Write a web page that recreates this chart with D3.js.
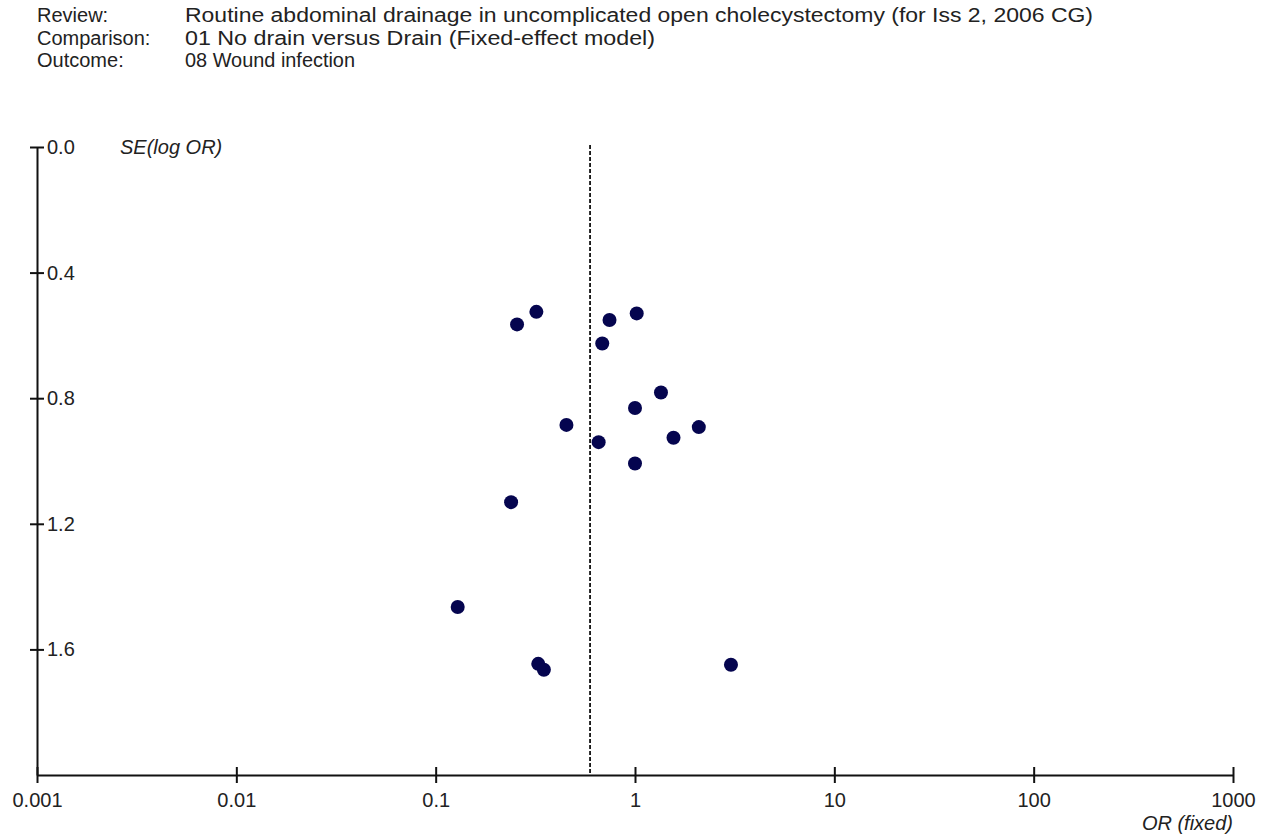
<!DOCTYPE html>
<html>
<head>
<meta charset="utf-8">
<script src="https://cdn.jsdelivr.net/npm/d3@7"></script>
<style>
  html, body { margin: 0; padding: 0; background: #fff; }
  svg { display: block; font-family: "Liberation Sans", Arial, sans-serif; }
</style>
</head>
<body>
<svg id="chart" width="1266" height="838"></svg>
<script>
// ---- data ----
const headerLabels = ["Review:", "Comparison:", "Outcome:"];
const headerValues = [
  "Routine abdominal drainage in uncomplicated open cholecystectomy (for Iss 2, 2006 CG)",
  "01 No drain versus Drain (Fixed-effect model)",
  "08 Wound infection"
];
const studyOR = [0.32, 0.256, 0.745, 1.02, 0.685, 1.35, 1.0, 0.453, 2.09, 1.56, 0.657, 1.0, 0.239, 0.129, 0.327, 0.349, 3.03];
const studySE = [0.525, 0.565, 0.551, 0.530, 0.626, 0.782, 0.831, 0.885, 0.892, 0.926, 0.940, 1.008, 1.131, 1.465, 1.646, 1.665, 1.649];
const pooledOR = 0.595;
const xTickValues = [0.001, 0.01, 0.1, 1, 10, 100, 1000];
const xTickLabels = ["0.001", "0.01", "0.1", "1", "10", "100", "1000"];
const yTickValues = [0.0, 0.4, 0.8, 1.2, 1.6];
const yTickLabels = ["0.0", "0.4", "0.8", "1.2", "1.6"];
const yAxisTitle = "SE(log OR)";
const xAxisTitle = "OR (fixed)";

// ---- layout ----
const svg = d3.select("#chart");
const plotLeft = 37, plotRight = 1233, plotTop = 147, plotBottom = 775;

const x = d3.scaleLog().domain([0.001, 1000]).range([plotLeft, plotRight]);
const y = d3.scaleLinear().domain([0, 2.0]).range([plotTop, plotBottom]);

// header
const hdr = svg.append("g").attr("fill", "#222").style("font-size", "20px");
const valueWidths = [908, 470, 170];
headerLabels.forEach((t, i) => {
  const by = 22 + i * 22.5;
  hdr.append("text").attr("x", 37).attr("y", by).text(t);
  hdr.append("text").attr("x", 185).attr("y", by)
    .attr("textLength", valueWidths[i]).attr("lengthAdjust", "spacingAndGlyphs")
    .text(headerValues[i]);
});

// pooled estimate dashed line
svg.append("line")
  .attr("x1", x(pooledOR)).attr("x2", x(pooledOR))
  .attr("y1", y(0) - 2).attr("y2", y(2.0))
  .attr("stroke", "#111").attr("stroke-width", 1.8)
  .attr("stroke-dasharray", "4,2");

// x axis
const xFmt = d => xTickLabels[xTickValues.indexOf(d)];
svg.append("g").attr("transform", `translate(0,${plotBottom})`)
  .call(d3.axisBottom(x).tickValues(xTickValues).tickFormat(xFmt)
    .tickSizeInner(8).tickSizeOuter(0).tickPadding(10));
svg.append("g").attr("transform", `translate(0,${plotBottom})`)
  .call(d3.axisTop(x).tickValues(xTickValues).tickFormat("")
    .tickSizeInner(8).tickSizeOuter(0))
  .select(".domain").remove();

// y axis (labels on right of axis line)
const yFmt = d => yTickLabels[yTickValues.indexOf(d)];
svg.append("g").attr("transform", `translate(${plotLeft},0)`)
  .call(d3.axisRight(y).tickValues(yTickValues).tickFormat(yFmt)
    .tickSizeInner(7).tickSizeOuter(0).tickPadding(3));
svg.append("g").attr("transform", `translate(${plotLeft},0)`)
  .call(d3.axisLeft(y).tickValues(yTickValues).tickFormat("")
    .tickSizeInner(7).tickSizeOuter(0))
  .select(".domain").remove();

svg.selectAll(".domain, .tick line").attr("stroke", "#111").attr("stroke-width", 2);
svg.selectAll(".tick text").attr("fill", "#222").style("font-size", "20px")
  .style("font-family", '"Liberation Sans", Arial, sans-serif');

// axis titles
svg.append("text").attr("x", 120).attr("y", y(0) + 7)
  .attr("fill", "#222").style("font-size", "20px").style("font-style", "italic")
  .text(yAxisTitle);
svg.append("text").attr("x", plotRight).attr("y", 830).attr("text-anchor", "end")
  .attr("fill", "#222").style("font-size", "20px").style("font-style", "italic")
  .text(xAxisTitle);

// points
svg.append("g").selectAll("circle")
  .data(studyOR.map((o, i) => ({ or: o, se: studySE[i] })))
  .join("circle")
  .attr("cx", d => x(d.or)).attr("cy", d => y(d.se))
  .attr("r", 7).attr("fill", "#05054f");
</script>
</body>
</html>
